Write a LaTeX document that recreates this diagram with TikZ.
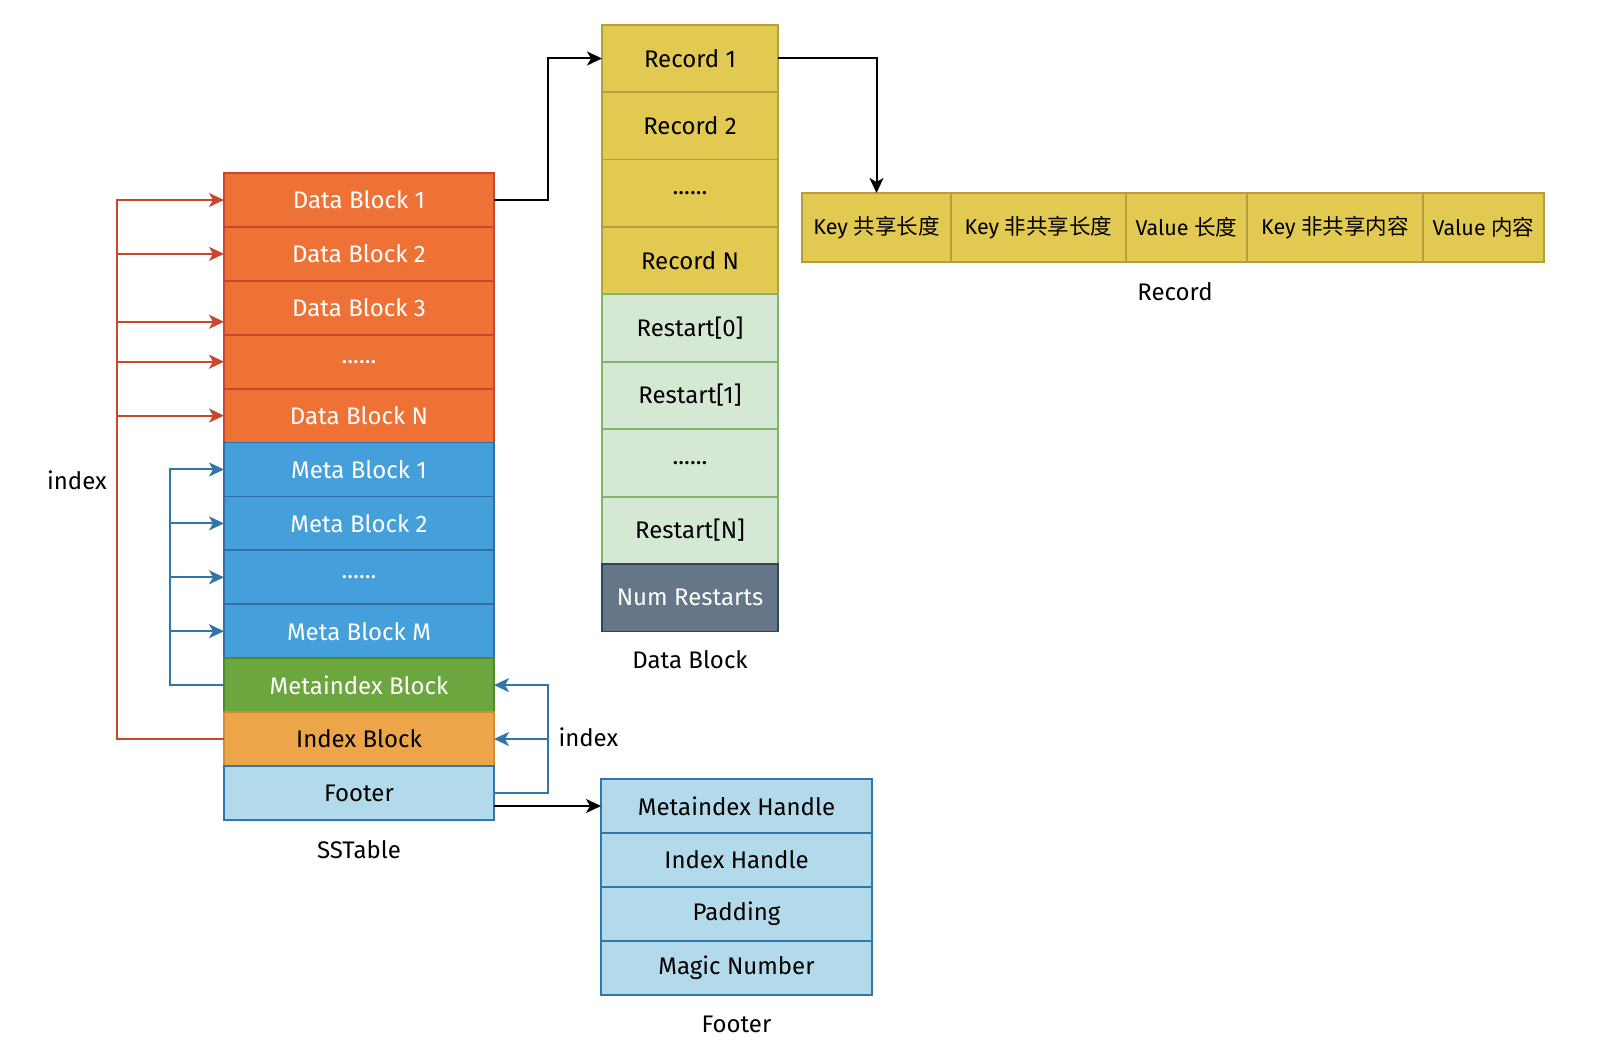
\documentclass[tikz,border=0pt]{standalone}
\usepackage{fontspec}
\setmainfont{Fira Sans}
\newfontfamily\cjk{Noto Sans CJK SC}
\usepackage{tikz}
\usetikzlibrary{arrows.meta,shapes}
\usetikzlibrary{positioning}
\definecolor{dbfill}{HTML}{EE7236}
\definecolor{dbline}{HTML}{C9472C}
\definecolor{mbfill}{HTML}{459FDA}
\definecolor{mbline}{HTML}{2F6FA6}
\definecolor{mifill}{HTML}{6BA63F}
\definecolor{miline}{HTML}{4E8A2C}
\definecolor{ibfill}{HTML}{ECA549}
\definecolor{ibline}{HTML}{D28B36}
\definecolor{ftfill}{HTML}{B2DAEB}
\definecolor{ftline}{HTML}{3177AB}
\definecolor{rcfill}{HTML}{E2C951}
\definecolor{rcline}{HTML}{B89D3E}
\definecolor{rsfill}{HTML}{D5E8D4}
\definecolor{rsline}{HTML}{82B366}
\definecolor{nrfill}{HTML}{647687}
\definecolor{nrline}{HTML}{314354}
\definecolor{redidx}{HTML}{C9472C}
\definecolor{blueidx}{HTML}{3276A8}
\tikzstyle{cell} =
  [rectangle, draw, line width=1.8pt, text centered, inner sep=0pt,
   outer sep=0pt, minimum width=270pt, minimum height=53.9pt,
   font=\fontsize{24}{28}\selectfont]
\tikzstyle{datab}=[cell, fill=dbfill, draw=dbline, text=white]
\tikzstyle{metab}=[cell, fill=mbfill, draw=mbline, text=white]
\tikzstyle{footb}=[cell, fill=ftfill, draw=ftline]
\tikzstyle{rec}=[cell, fill=rcfill, draw=rcline, minimum width=176pt, minimum height=67.4pt]
\tikzstyle{rst}=[rec, fill=rsfill, draw=rsline]
\tikzstyle{field}=[rec, minimum height=69pt, font=\fontsize{21.5}{25}\selectfont]
\tikzstyle{caption}=[font=\fontsize{24}{28}\selectfont]
\tikzstyle{arrow}=[draw,-{Stealth[length=15pt,width=14pt,inset=4pt]},line width=2pt]

\begin{document}
\begin{tikzpicture}[x=1pt, y=-1pt, node distance=53.9pt]
  \useasboundingbox (0,0) rectangle (1607,1040);
  % SSTable
  \node [datab] at (359,200) (s1) {Data Block 1};
  \node [datab, below of=s1] (s2) {Data Block 2};
  \node [datab, below of=s2] (s3) {Data Block 3};
  \node [datab, below of=s3] (s4) {......};
  \node [datab, below of=s4] (s5) {Data Block N};
  \node [metab, below of=s5] (s6) {Meta Block 1};
  \node [metab, below of=s6] (s7) {Meta Block 2};
  \node [metab, below of=s7] (s8) {......};
  \node [metab, below of=s8] (s9) {Meta Block M};
  \node [cell, fill=mifill, draw=miline, text=white, below of=s9] (s10) {Metaindex Block};
  \node [cell, fill=ibfill, draw=ibline, below of=s10] (s11) {Index Block};
  \node [footb, below of=s11] (s12) {Footer};
  \node [caption, below of=s12, node distance=57pt] (sst) {SSTable};

  % Data Block
  \node [rec] at (690,58.5) (r1) {Record 1};
  \node [rec, below of=r1, node distance=67.4pt] (r2) {Record 2};
  \node [rec, below of=r2, node distance=67.4pt] (r3) {......};
  \node [rec, below of=r3, node distance=67.4pt] (r4) {Record N};
  \node [rst, below of=r4, node distance=67.4pt] (r5) {Restart[0]};
  \node [rst, below of=r5, node distance=67.4pt] (r6) {Restart[1]};
  \node [rst, below of=r6, node distance=67.4pt] (r7) {......};
  \node [rst, below of=r7, node distance=67.4pt] (r8) {Restart[N]};
  \node [rec, fill=nrfill, draw=nrline, text=white, below of=r8, node distance=67.4pt] (r9) {Num Restarts};
  \node [caption, below of=r9, node distance=62pt] (dbl) {Data Block};

  % Record
  \node [field, minimum width=149pt] at (876.5,227.5) (k1) {Key {\cjk 共享长度}};
  \node [field, minimum width=175pt, right of=k1, node distance=162pt] (k2) {Key {\cjk 非共享长度}};
  \node [field, minimum width=121pt, right of=k2, node distance=148pt] (k3) {Value {\cjk 长度}};
  \node [field, minimum width=176pt, right of=k3, node distance=148.5pt] (k4) {Key {\cjk 非共享内容}};
  \node [field, minimum width=121pt, right of=k4, node distance=148.5pt] (k5) {Value {\cjk 内容}};
  \node [caption] at (1175,292) (rcl) {Record};

  % Footer
  \node [footb, minimum width=271pt] at (736.5,806) (f1) {Metaindex Handle};
  \node [footb, minimum width=271pt, below of=f1] (f2) {Index Handle};
  \node [footb, minimum width=271pt, below of=f2] (f3) {Padding};
  \node [footb, minimum width=271pt, below of=f3] (f4) {Magic Number};
  \node [caption, below of=f4, node distance=57pt] (ftl) {Footer};

  % index links
  \coordinate (rl) at ([xshift=-107pt]s11.west);
  \coordinate (bl) at ([xshift=-54pt]s10.west);
  \coordinate (br) at ([xshift=54pt]s12.east);
  \draw [line width=2pt, redidx] (s11.west) -- (rl) -- (rl |- s1.west);
  \foreach \n in {s1,s2,s4,s5}
    \draw [arrow, redidx] (rl) |- (\n.west);
  \draw [arrow, redidx] (rl) |- ([yshift=-14pt]s3.west);
  \node [caption] at (77,480) (idx1) {index};

  \draw [line width=2pt, blueidx] (s10.west) -- (bl) -- (bl |- s6.west);
  \foreach \n in {s6,s7,s8,s9}
    \draw [arrow, blueidx] (bl) |- (\n.west);

  \draw [line width=2pt, blueidx] (s12.east) -- (br) -- (br |- s10.east);
  \draw [arrow, blueidx] (br) |- (s10.east);
  \draw [arrow, blueidx] (br) |- (s11.east);
  \node [caption, anchor=west] at (555,737) (idx2) {index};

  % data flow
  \draw [arrow, black] (s1.east) -- ++(54,0) |- (r1.west);
  \draw [arrow, black] (r1.east) -| (k1.north);
  \draw [arrow, black] (f1.west -| s12.east) -- (f1.west);

\end{tikzpicture}
\end{document}
